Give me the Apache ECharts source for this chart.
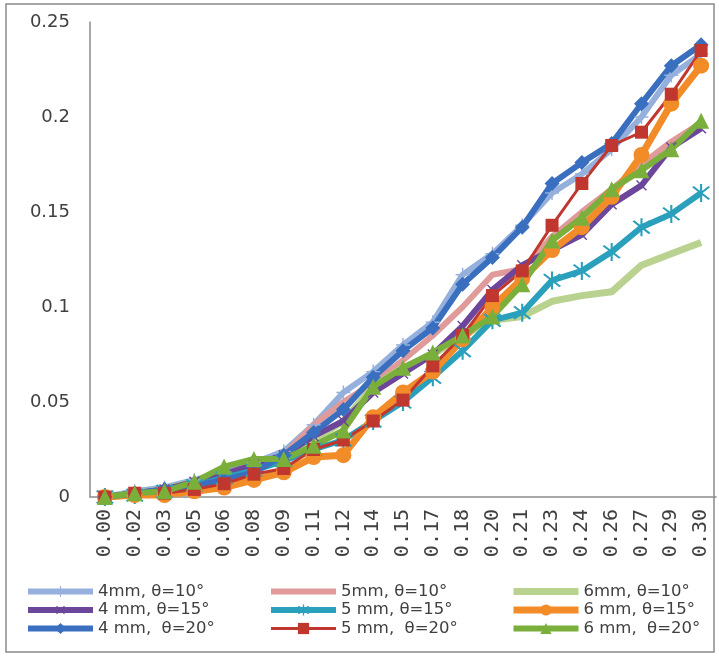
<!DOCTYPE html>
<html>
<head>
<meta charset="utf-8">
<script src="https://cdn.jsdelivr.net/npm/echarts@6/dist/echarts.min.js"></script>
<style>
html,body{margin:0;padding:0;background:#fff;}
#c{width:719px;height:660px;}
</style>
</head>
<body>
<div id="c"></div>
<script>
var categories = ['0.00','0.02','0.03','0.05','0.06','0.08','0.09','0.11','0.12','0.14','0.15','0.17','0.18','0.20','0.21','0.23','0.24','0.26','0.27','0.29','0.30'];
var yTickLabels = ['0','0.05','0.1','0.15','0.2','0.25'];
var seriesNames = ['4mm, \u03b8=10\u00b0','5mm, \u03b8=10\u00b0','6mm, \u03b8=10\u00b0','4 mm, \u03b8=15\u00b0','5 mm, \u03b8=15\u00b0','6 mm, \u03b8=15\u00b0','4 mm,  \u03b8=20\u00b0','5 mm,  \u03b8=20\u00b0','6 mm,  \u03b8=20\u00b0'];
var s4mm10 = [0,0.003,0.005,0.009,0.013,0.018,0.024,0.038,0.055,0.066,0.080,0.092,0.117,0.128,0.143,0.160,0.170,0.183,0.200,0.222,0.233];
var s5mm10 = [0,0.002,0.004,0.008,0.012,0.017,0.022,0.038,0.050,0.060,0.072,0.085,0.100,0.117,0.120,0.137,0.150,0.162,0.175,0.187,0.197];
var s6mm10 = [0,0.002,0.004,0.008,0.012,0.016,0.020,0.030,0.040,0.058,0.068,0.075,0.085,0.093,0.095,0.103,0.106,0.108,0.122,0.128,0.134];
var s4mm15 = [0,0.002,0.004,0.008,0.012,0.017,0.022,0.032,0.040,0.055,0.065,0.075,0.090,0.109,0.122,0.130,0.138,0.154,0.164,0.184,0.194];
var s5mm15 = [0,0.001,0.003,0.006,0.010,0.014,0.019,0.025,0.030,0.040,0.050,0.063,0.077,0.093,0.097,0.114,0.119,0.129,0.142,0.149,0.160];
var s6mm15 = [0,0.001,0.001,0.003,0.005,0.009,0.013,0.021,0.022,0.042,0.055,0.066,0.083,0.100,0.115,0.130,0.142,0.158,0.180,0.207,0.227];
var s4mm20 = [0,0.002,0.004,0.006,0.009,0.013,0.022,0.034,0.046,0.063,0.077,0.089,0.112,0.126,0.142,0.165,0.176,0.186,0.207,0.227,0.238];
var s5mm20 = [0,0.002,0.002,0.004,0.007,0.012,0.015,0.025,0.030,0.040,0.051,0.069,0.085,0.106,0.119,0.143,0.165,0.185,0.192,0.212,0.235];
var s6mm20 = [0,0.002,0.003,0.008,0.016,0.020,0.020,0.027,0.035,0.058,0.068,0.076,0.085,0.095,0.112,0.135,0.147,0.162,0.172,0.183,0.198];

var PLUS = 'path://M-1,-10 L1,-10 L1,-1 L10,-1 L10,1 L1,1 L1,10 L-1,10 L-1,1 L-10,1 L-10,-1 L-1,-1 Z';
var STAR = 'path://M-0.9,-10 L0.9,-10 L0.9,10 L-0.9,10 Z M-7.7,-6.3 L-6.3,-7.7 L7.7,6.3 L6.3,7.7 Z M-6.3,7.7 L-7.7,6.3 L6.3,-7.7 L7.7,-6.3 Z';

var FONT = 'DejaVu Sans';
var TXT = '#404040';

function mk(name, data, color, width, symbol, size, rot) {
  return {
    name: name, type: 'line', data: data,
    symbol: symbol, symbolSize: size, symbolRotate: rot || 0,
    showSymbol: symbol !== 'none',
    lineStyle: {color: color, width: width},
    itemStyle: {color: color},
    emphasis: {disabled: true}
  };
}
function li(i, noMarker) {
  var o = {name: seriesNames[i]};
  if (noMarker) { o.itemStyle = {opacity: 0}; }
  return o;
}

var chart = echarts.init(document.getElementById('c'), null, {renderer: 'canvas'});
var legendBase = {
  orient: 'vertical', top: 583, itemWidth: 65, itemHeight: 14, itemGap: 1.5, padding: 0,
  lineStyle: {width: 'inherit'},
  textStyle: {fontFamily: FONT, fontSize: 16.5, color: TXT}
};
chart.setOption({
  animation: false,
  backgroundColor: '#fff',
  graphic: [{
    type: 'rect', shape: {x: 6, y: 4, width: 708, height: 648},
    style: {fill: 'none', stroke: '#8a8a8a', lineWidth: 1.5}, silent: true
  }],
  grid: {left: 90, right: 3, top: 22, bottom: 163, containLabel: false},
  legend: [
    Object.assign({}, legendBase, {left: 25, data: [li(0), li(3), li(6)]}),
    Object.assign({}, legendBase, {left: 268, data: [li(1, true), li(4), li(7)]}),
    Object.assign({}, legendBase, {left: 510, data: [li(2, true), li(5), li(8)]})
  ],
  xAxis: {
    type: 'category', data: categories, boundaryGap: true,
    axisLine: {show: true, lineStyle: {color: '#8c8c8c', width: 1.5}},
    axisTick: {show: false},
    axisLabel: {rotate: 90, interval: 0, margin: 12, fontFamily: 'DejaVu Sans Mono', fontSize: 20, color: TXT},
    splitLine: {show: false}
  },
  yAxis: {
    type: 'value', min: 0, max: 0.25, interval: 0.05,
    axisLine: {show: true, lineStyle: {color: '#8c8c8c', width: 1.5}},
    axisTick: {show: false},
    splitLine: {show: false},
    axisLabel: {
      margin: 20, fontFamily: FONT, fontSize: 18, color: TXT,
      formatter: function (v) { return yTickLabels[Math.round(v / 0.05)]; }
    }
  },
  series: [
    mk(seriesNames[0], s4mm10, '#95B0DC', 6, PLUS, 14),
    mk(seriesNames[1], s5mm10, '#E09A9A', 6, 'none', 1),
    mk(seriesNames[2], s6mm10, '#B9D290', 7, 'none', 1),
    mk(seriesNames[3], s4mm15, '#6B469B', 6, PLUS, 14, 45),
    mk(seriesNames[4], s5mm15, '#2AA0BC', 6, STAR, 18),
    mk(seriesNames[5], s6mm15, '#F28C28', 7, 'circle', 16),
    mk(seriesNames[6], s4mm20, '#3A6FC0', 6, 'diamond', 15),
    mk(seriesNames[7], s5mm20, '#C0372F', 3, 'rect', 13),
    mk(seriesNames[8], s6mm20, '#7AAF3C', 6, 'triangle', 16)
  ]
});
</script>
</body>
</html>
